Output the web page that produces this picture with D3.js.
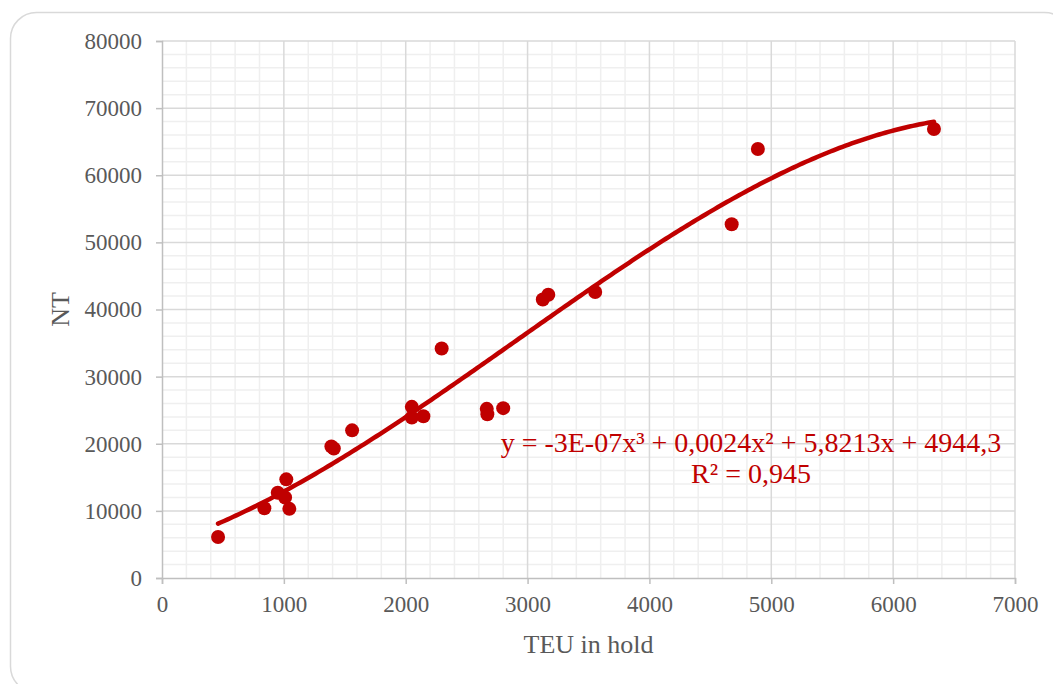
<!DOCTYPE html>
<html>
<head>
<meta charset="utf-8">
<script src="https://cdn.jsdelivr.net/npm/d3@7"></script>
<style>
  html, body { margin: 0; padding: 0; background: #fff; }
  svg { display: block; }
  text { font-family: "Liberation Serif", "Times New Roman", serif; }
</style>
</head>
<body>
<svg id="chart" width="1053" height="684"></svg>
<script>
// TEU capacity in hold vs. net tonnage
const teu = [460, 840, 950, 1010, 1020, 1045, 1390, 1410, 1560, 2050, 2050, 2145, 2295, 2665, 2670, 2800, 3125, 3170, 3555, 4675, 4890, 6335];
const nt  = [6100, 10400, 12700, 12000, 14700, 10300, 19600, 19300, 22000, 25500, 23900, 24100, 34200, 25200, 24400, 25300, 41500, 42200, 42600, 52700, 63900, 66900];

// Polynomial trendline (order 3), coefficients highest power first
const trendCoef = [-2.76e-7, 0.0024, 5.8213, 4944.3];
const trendLabel = "y = -3E-07x³ + 0,0024x² + 5,8213x + 4944,3";
const r2Label = "R² = 0,945";

const xTicks = [0, 1000, 2000, 3000, 4000, 5000, 6000, 7000];
const yTicks = [0, 10000, 20000, 30000, 40000, 50000, 60000, 70000, 80000];

const red = "#C00000";
const svg = d3.select("#chart");

// chart frame
svg.append("rect")
  .attr("x", 10.5).attr("y", 12.5)
  .attr("width", 1060).attr("height", 680)
  .attr("rx", 26).attr("ry", 26)
  .attr("fill", "#fff").attr("stroke", "#d9d9d9").attr("stroke-width", 1.5);

const x = d3.scaleLinear().domain([0, 7000]).range([162, 1015]);
const y = d3.scaleLinear().domain([0, 80000]).range([578, 41]);

const g = svg.append("g");

// minor gridlines
const xMinor = d3.range(0, 7001, 200).filter(v => v % 1000 !== 0);
const yMinor = d3.range(0, 80001, 2000).filter(v => v % 10000 !== 0);
g.selectAll(".xminor").data(xMinor).join("line")
  .attr("x1", d => x(d)).attr("x2", d => x(d))
  .attr("y1", y(0)).attr("y2", y(80000))
  .attr("stroke", "#efefef").attr("stroke-width", 1.5);
g.selectAll(".yminor").data(yMinor).join("line")
  .attr("x1", x(0)).attr("x2", x(7000))
  .attr("y1", d => y(d)).attr("y2", d => y(d))
  .attr("stroke", "#efefef").attr("stroke-width", 1.5);

// major gridlines
g.selectAll(".xmajor").data(xTicks.slice(1)).join("line")
  .attr("x1", d => x(d)).attr("x2", d => x(d))
  .attr("y1", y(0)).attr("y2", y(80000))
  .attr("stroke", "#d9d9d9").attr("stroke-width", 1.5);
g.selectAll(".ymajor").data(yTicks.slice(1)).join("line")
  .attr("x1", x(0)).attr("x2", x(7000))
  .attr("y1", d => y(d)).attr("y2", d => y(d))
  .attr("stroke", "#d9d9d9").attr("stroke-width", 1.5);

// axes
const xAxis = d3.axisBottom(x).tickValues(xTicks).tickSize(6).tickPadding(12).tickFormat(d3.format("d"));
const yAxis = d3.axisLeft(y).tickValues(yTicks).tickSize(6).tickPadding(14).tickFormat(d3.format("d"));

const gx = svg.append("g").attr("transform", `translate(0,${y(0)})`).call(xAxis);
const gy = svg.append("g").attr("transform", `translate(${x(0)},0)`).call(yAxis);
[gx, gy].forEach(a => {
  a.select(".domain").attr("stroke", "#bfbfbf").attr("stroke-width", 1.5);
  a.selectAll(".tick line").attr("stroke", "#bfbfbf").attr("stroke-width", 1.5);
  a.selectAll(".tick text")
    .attr("fill", "#595959")
    .style("font-family", '"Liberation Serif", "Times New Roman", serif')
    .style("font-size", "23px");
});

// axis titles
svg.append("text")
  .attr("x", (x(0) + x(7000)) / 2).attr("y", 653)
  .attr("text-anchor", "middle")
  .attr("fill", "#595959").style("font-size", "26px")
  .text("TEU in hold");
svg.append("text")
  .attr("transform", `translate(69,${(y(0) + y(80000)) / 2}) rotate(-90)`)
  .attr("text-anchor", "middle")
  .attr("fill", "#595959").style("font-size", "26px")
  .text("NT");

// trendline over the data range
const poly = v => trendCoef.reduce((acc, c) => acc * v + c, 0);
const xs = d3.range(d3.min(teu), d3.max(teu) + 1, 25);
if (xs[xs.length - 1] !== d3.max(teu)) xs.push(d3.max(teu));
const line = d3.line().x(d => x(d)).y(d => y(poly(d))).curve(d3.curveLinear);
svg.append("path")
  .datum(xs)
  .attr("d", line)
  .attr("fill", "none")
  .attr("stroke", red)
  .attr("stroke-width", 4.5)
  .attr("stroke-linecap", "round");

// data points
const pts = teu.map((v, i) => [v, nt[i]]);
svg.selectAll(".pt").data(pts).join("circle")
  .attr("cx", d => x(d[0])).attr("cy", d => y(d[1]))
  .attr("r", 7).attr("fill", red);

// equation label
const lbl = svg.append("text")
  .attr("text-anchor", "middle")
  .attr("fill", red).style("font-size", "28px");
lbl.append("tspan").attr("x", 751).attr("y", 452).text(trendLabel);
lbl.append("tspan").attr("x", 751).attr("y", 483).text(r2Label);
</script>
</body>
</html>
